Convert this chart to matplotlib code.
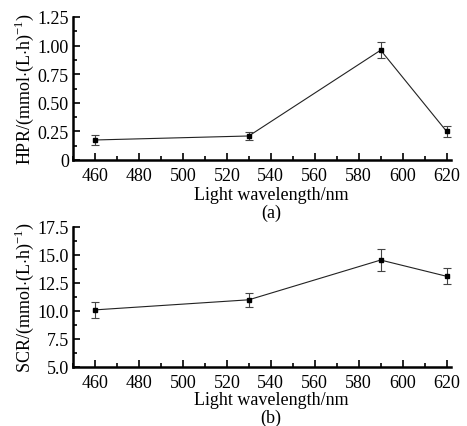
import matplotlib
matplotlib.use("Agg")
import matplotlib.pyplot as plt
from matplotlib.ticker import MultipleLocator

plt.rcParams['font.family'] = ['Liberation Serif', 'DejaVu Serif']
plt.rcParams['mathtext.fontset'] = 'custom'
plt.rcParams['mathtext.rm'] = 'Liberation Serif'

wavelength = [460, 530, 590, 620]
hpr = [0.175, 0.21, 0.96, 0.25]
hpr_err = [0.04, 0.035, 0.07, 0.05]
scr = [10.1, 11.0, 14.55, 13.1]
scr_err = [0.7, 0.6, 0.95, 0.7]

fig = plt.figure(figsize=(4.67, 4.27), dpi=100)
ax1 = fig.add_axes([73/467, 1-161/427, (451-73)/467, (161-18)/427])
ax2 = fig.add_axes([73/467, 1-368/427, (451-73)/467, (368-228)/427])

fs = 13
def style(ax, y, err, ylabel, ylim, major, minor, fmt, tag, ly):
    ax.errorbar(wavelength, y, yerr=err, color='#222222', lw=0.8, marker='s', ms=3,
                mfc='black', mec='black',
                capsize=3, elinewidth=0.8, ecolor='#444444', capthick=0.8)
    ax.set_xlim(450, 622)
    ax.set_ylim(*ylim)
    ax.xaxis.set_major_locator(MultipleLocator(20))
    ax.xaxis.set_minor_locator(MultipleLocator(10))
    ax.yaxis.set_major_locator(MultipleLocator(major))
    ax.yaxis.set_minor_locator(MultipleLocator(minor))
    ax.yaxis.set_major_formatter(fmt)
    for s in ['top', 'right']:
        ax.spines[s].set_visible(False)
    for s in ['left', 'bottom']:
        ax.spines[s].set_linewidth(1.8)
    ax.tick_params(which='both', direction='in', width=1.2, labelsize=fs, pad=3)
    ax.tick_params(axis='x', which='both', pad=5)
    ax.tick_params(which='major', length=5)
    ax.tick_params(which='minor', length=3)
    ax.set_ylabel(ylabel, fontsize=fs, labelpad=1)
    ax.set_xlabel('Light wavelength/nm\n' + tag, fontsize=fs, labelpad=0, linespacing=1.05)
    ax.xaxis.set_label_coords(0.524, ly)

def fmt_a(v, p):
    return '0' if abs(v) < 1e-9 else f'{v:.2f}'
def fmt_b(v, p):
    return f'{v:.1f}'

style(ax1, hpr, hpr_err, r'HPR/(mmol$\cdot$(L$\cdot$h)$^{-1}$)', (0, 1.25), 0.25, 0.125, fmt_a, '(a)', -0.18)
style(ax2, scr, scr_err, r'SCR/(mmol$\cdot$(L$\cdot$h)$^{-1}$)', (5, 17.5), 2.5, 1.25, fmt_b, '(b)', -0.17)

fig.savefig('out.png', dpi=100)
